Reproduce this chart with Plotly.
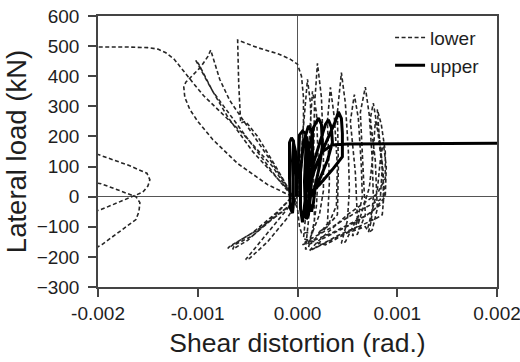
import plotly.graph_objects as go

# Shear distortion (rad.) vs lateral load (kN)
lower_pts = [
    (0.00000, 0), (0.00002, 80), (0.00005, 200), (0.00008, 330), (0.00010, 390),
    (0.00013, 310), (0.00014, 150), (0.00013, 20), (0.00011, -80), (0.00008, -175),
    (0.00011, -170), (0.00017, -80), (0.00016, 100), (0.00017, 300), (0.00020, 443),
    (0.00024, 330), (0.00026, 150), (0.00026, 20), (0.00022, -60), (0.00010, -160),
    (0.00014, -155), (0.00030, -90), (0.00032, 50), (0.00030, 250), (0.00033, 363),
    (0.00037, 260), (0.00040, 100), (0.00039, -30), (0.00030, -100), (0.00020, -120),
    (0.00024, -120), (0.00040, -60), (0.00041, 100), (0.00040, 280), (0.00044, 412),
    (0.00048, 310), (0.00051, 150), (0.00052, 20), (0.00050, -80), (0.00044, -155),
    (0.00048, -150), (0.00060, -70), (0.00058, 80), (0.00053, 250), (0.00057, 339),
    (0.00061, 260), (0.00064, 100), (0.00065, 0), (0.00060, -80), (0.00055, -130),
    (0.00060, -125), (0.00068, -60), (0.00066, 100), (0.00063, 280), (0.00068, 364),
    (0.00072, 270), (0.00075, 120), (0.00076, 0), (0.00074, -80), (0.00071, -120),
    (0.00075, -110), (0.00080, -40), (0.00078, 120), (0.00073, 260), (0.00076, 311),
    (0.00080, 230), (0.00084, 120), (0.00087, 20), (0.00085, -60), (0.00080, -70),
    (0.00030, -150), (0.00012, -180), (0.00020, -150), (0.00050, -60), (0.00080, 10),
    (0.00088, 60), (0.00088, 150), (0.00084, 240), (0.00080, 290), (0.00082, 200),
    (0.00086, 80), (0.00086, -20), (0.00070, -60), (0.00035, -120), (0.00005, -160),
    (0.00008, -150), (0.00030, -110), (0.00060, -50), (0.00083, -10), (0.00085, 100),
    (0.00082, 200), (0.00078, 250), (0.00076, 150), (0.00072, 30), (0.00060, -100),
    (0.00040, -130), (0.00018, -170), (0.00025, -140), (0.00055, -90), (0.00075, -50),
    (0.00088, 0), (0.00089, 100), (0.00086, 180), (0.00083, 120), (0.00080, 20),
    (0.00070, -110), (0.00068, -100), (0.00050, -120), (0.00028, -160), (0.00006, -140),
    (0.00010, 0), (0.00012, 200), (0.00015, 350), (0.00019, 280), (0.00021, 100),
    (0.00019, -30), (0.00015, -120), (0.00004, -120), (0.00002, -100), (0.00000, -40),
    (-0.00005, 0), (-0.00020, 60), (-0.00045, 170), (-0.00070, 280), (-0.00085, 350),
    (-0.00095, 410), (-0.00102, 453), (-0.00099, 440), (-0.00093, 400), (-0.00085, 350),
    (-0.00070, 265), (-0.00045, 150), (-0.00020, 60), (-0.00004, 5), (-0.00020, -50),
    (-0.00045, -120), (-0.00068, -165), (-0.00070, -172), (-0.00060, -150), (-0.00040, -110),
    (-0.00015, -50), (-0.00002, -10),
    (-0.00025, 110), (-0.00050, 230), (-0.00068, 320), (-0.00078, 390), (-0.00084, 450),
    (-0.00087, 487), (-0.00090, 465), (-0.00097, 431), (-0.00106, 400), (-0.00112, 380),
    (-0.00114, 364), (-0.00113, 330), (-0.00108, 290), (-0.00100, 250), (-0.00085, 190),
    (-0.00060, 110), (-0.00030, 40), (-0.00005, 0),
    (-0.00025, -70), (-0.00050, -145), (-0.00065, -175), (-0.00063, -160), (-0.00045, -130),
    (-0.00020, -60), (-0.00002, -15),
    (-0.00020, 90), (-0.00040, 200), (-0.00052, 250), (-0.00057, 245), (-0.00059, 380),
    (-0.00060, 520), (-0.00040, 495), (-0.00020, 475), (-0.00008, 458), (0.00000, 440),
    (0.00004, 400), (0.00006, 330), (0.00006, 250), (0.00004, 100), (0.00000, 0),
    (-0.00015, -60), (-0.00035, -140), (-0.00052, -209), (-0.00048, -205), (-0.00030, -150),
    (-0.00010, -70), (-0.00001, -20),
    (-0.00025, 100), (-0.00055, 210), (-0.00080, 290), (-0.00094, 335), (-0.00104, 375),
    (-0.00111, 404), (-0.00118, 435), (-0.00124, 458), (-0.00132, 478), (-0.00140, 490),
    (-0.00150, 495), (-0.00170, 497), (-0.00210, 497), (-0.00220, 300), (-0.00210, 150),
    (-0.00199, 139), (-0.00170, 105), (-0.00151, 78), (-0.00148, 56), (-0.00150, 35),
    (-0.00155, 15), (-0.00166, 0), (-0.00197, -43), (-0.00210, -55), (-0.00210, 50),
    (-0.00197, 43), (-0.00162, 0), (-0.00158, -20), (-0.00159, -50), (-0.00162, -76),
    (-0.00180, -120), (-0.00196, -159), (-0.00210, -185),
]

upper_pts = [
    (0.00000, 0), (-0.00003, 120), (-0.00004, 185), (-0.00006, 195), (-0.00008, 180),
    (-0.00008, 60), (-0.00007, -40), (-0.00005, -55), (-0.00004, -20), (-0.00005, 120),
    (-0.00004, 180), (-0.00002, 150), (-0.00001, 0), (0.00001, 120), (0.00002, 205),
    (0.00005, 218), (0.00008, 210), (0.00009, 120), (0.00008, 0), (0.00006, -60),
    (0.00005, -85), (0.00003, -40), (0.00003, 80), (0.00006, 180), (0.00011, 235),
    (0.00015, 215), (0.00015, 100), (0.00013, 0), (0.00011, -60), (0.00009, -75),
    (0.00008, 0), (0.00010, 130), (0.00016, 230), (0.00021, 261), (0.00024, 240),
    (0.00025, 170), (0.00022, 100), (0.00018, 40), (0.00016, -20), (0.00014, -50),
    (0.00012, -20), (0.00015, 100), (0.00022, 180), (0.00028, 240), (0.00031, 255),
    (0.00034, 230), (0.00035, 180), (0.00030, 120), (0.00020, 40), (0.00014, 0),
    (0.00011, 20), (0.00018, 100), (0.00030, 190), (0.00038, 250), (0.00041, 282),
    (0.00044, 260), (0.00045, 210), (0.00045, 133), (0.00035, 90), (0.00022, 40),
    (0.00012, 10), (0.00010, 180), (0.00012, 120), (0.00011, -40), (0.00008, -70),
    (0.00007, 50), (0.00009, 200), (0.00016, 80), (0.00025, 150), (0.00035, 172),
    (0.00050, 175), (0.00200, 178), (0.00210, 178),
]

x_ticks = [-0.002, -0.001, 0.0, 0.001, 0.002]
x_tick_text = ["-0.002", "-0.001", "0.000", "0.001", "0.002"]
y_ticks = [-300, -200, -100, 0, 100, 200, 300, 400, 500, 600]

FONT = "Liberation Sans, Arial, sans-serif"
TXT = "#1e1e1e"

fig = go.Figure()
fig.add_trace(go.Scatter(
    x=[p[0] for p in lower_pts], y=[p[1] for p in lower_pts],
    mode="lines", name="lower",
    line=dict(color="#262626", width=1.6, dash="4px,2.5px"),
))
fig.add_trace(go.Scatter(
    x=[p[0] for p in upper_pts], y=[p[1] for p in upper_pts],
    mode="lines", name="upper",
    line=dict(color="#000000", width=3),
))

axis_common = dict(
    showgrid=False, showline=True, mirror=True, linecolor="#444444", linewidth=1.5,
    ticks="outside", ticklen=8, tickwidth=1.5, tickcolor="#444444",
    zeroline=True, zerolinecolor="#555555", zerolinewidth=1.2,
    tickfont=dict(family=FONT, size=19, color=TXT),
    automargin=False,
)

fig.update_layout(
    width=520, height=362,
    margin=dict(l=98, r=23, t=16, b=75),
    paper_bgcolor="white", plot_bgcolor="white",
    font=dict(family=FONT, color=TXT),
    xaxis=dict(range=[-0.0020001, 0.0020001], tickvals=x_ticks, ticktext=x_tick_text,
               ticklabeloverflow="allow",
               title=dict(text="Shear distortion (rad.)", font=dict(family=FONT, size=26.5, color=TXT), standoff=11),
               **axis_common),
    yaxis=dict(range=[-300.1, 600.1], tickvals=y_ticks, ticklabelstandoff=5,
               title=dict(text="Lateral load (kN)", font=dict(family=FONT, size=27.5, color=TXT), standoff=2),
               **axis_common),
    legend=dict(x=0.732, y=0.99, xanchor="left", yanchor="top", bgcolor="rgba(0,0,0,0)",
                font=dict(family=FONT, size=19, color=TXT), tracegroupgap=0),
    showlegend=True,
)

fig.write_html("out.html")
